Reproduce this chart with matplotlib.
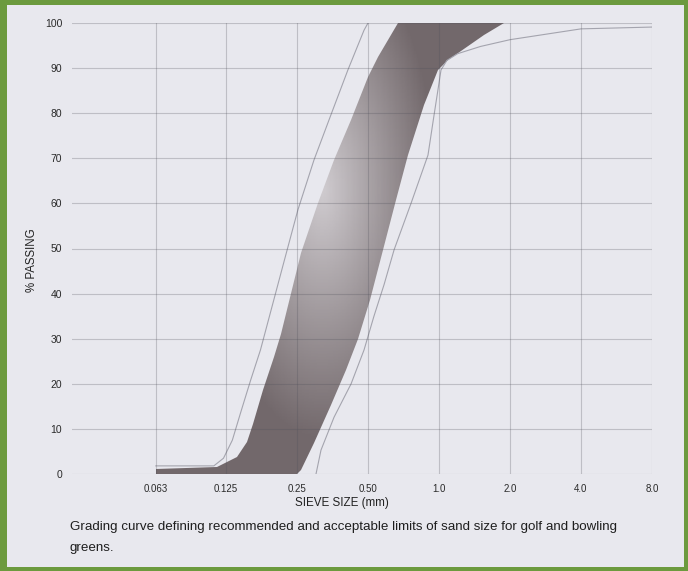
import numpy as np
import matplotlib.pyplot as plt
from matplotlib.colors import LinearSegmentedColormap
from matplotlib.patches import Polygon, Rectangle

# axis ticks
tick_sizes = [0.063, 0.125, 0.25, 0.5, 1.0, 2.0, 4.0, 8.0]
tick_labels = ["0.063", "0.125", "0.25", "0.50", "1.0", "2.0", "4.0", "8.0"]
y_ticks = list(range(0, 101, 10))

# recommended band, fine side (mm, % passing)
rec_fine_size = [0.063, 0.115, 0.139, 0.154, 0.163, 0.180, 0.199, 0.213, 0.260, 0.307, 0.359, 0.424, 0.500, 0.552, 0.670]
rec_fine_pass = [1.0, 1.5, 3.8, 7.0, 11.0, 18.6, 26.0, 31.0, 49.0, 60.0, 69.6, 78.5, 88.0, 92.5, 100.0]
# recommended band, coarse side
rec_coarse_size = [0.25, 0.26, 0.295, 0.348, 0.403, 0.454, 0.51, 0.579, 0.657, 0.739, 0.864, 0.99, 1.09, 1.24, 1.55, 1.89]
rec_coarse_pass = [0.0, 0.9, 6.9, 15.3, 23.1, 30.0, 38.6, 49.7, 60.8, 70.7, 81.8, 89.6, 91.8, 93.8, 97.3, 100.0]
# acceptable limits (thin lines)
acc_fine_size = [0.063, 0.111, 0.122, 0.133, 0.144, 0.159, 0.175, 0.220, 0.252, 0.295, 0.348, 0.411, 0.481, 0.500]
acc_fine_pass = [1.8, 1.8, 3.5, 7.5, 13.5, 20.8, 27.5, 47.0, 58.5, 69.6, 79.6, 89.6, 98.4, 100.0]
acc_coarse_size = [0.301, 0.316, 0.359, 0.424, 0.481, 0.530, 0.585, 0.645, 0.761, 0.898, 0.953, 1.02, 1.08, 1.2, 1.5, 2.0, 4.0, 8.0]
acc_coarse_pass = [0.0, 5.3, 12.6, 20.0, 27.5, 35.0, 42.0, 49.7, 60.0, 70.7, 79.6, 89.6, 91.7, 93.2, 94.8, 96.3, 98.7, 99.1]

plt.rcParams['font.family'] = ['Liberation Sans', 'DejaVu Sans']

fig = plt.figure(figsize=(6.88, 5.71), dpi=100, facecolor='#6c9a3e')
W, H = 688, 571
# light page inside the green frame
fig.patches.append(Rectangle((7 / W, 4 / H), (684 - 7) / W, (566 - 4) / H,
                             transform=fig.transFigure, facecolor='#e8e8ee',
                             edgecolor='none', zorder=-5))

ax = fig.add_axes([72 / W, (H - 474) / H, (652 - 72) / W, (474 - 23) / H])
ax.set_zorder(2)
ax.set_facecolor('none')
ax.set_xscale('log', base=2)
ax.set_xlim(0.0278, 8.0)
ax.set_ylim(0, 100)

# band outline
verts = [(0.063, 0.0)] + list(zip(rec_fine_size, rec_fine_pass)) + \
        list(zip(rec_coarse_size[::-1], rec_coarse_pass[::-1]))
band = Polygon(verts, closed=True, facecolor='none', edgecolor='none')
ax.add_patch(band)

# shaded fill, lighter in the middle-left
xs = np.geomspace(0.06, 2.0, 300)
ys = np.linspace(0, 100, 300)
X, Y = np.meshgrid(xs, ys)
d = np.sqrt(((np.log2(X) - np.log2(0.32)) / 1.6) ** 2 + ((Y - 63) / 55) ** 2)
shade = 1 - np.clip(d, 0, 1)
cmap = LinearSegmentedColormap.from_list('band', ['#72686b', '#cfcbcf'])
mesh = ax.pcolormesh(X, Y, shade, cmap=cmap, vmin=0, vmax=1, shading='auto', zorder=1)
mesh.set_clip_path(band)

ax.plot(acc_fine_size, acc_fine_pass, color='#a4a4ae', lw=0.8, zorder=2)
ax.plot(acc_coarse_size, acc_coarse_pass, color='#a4a4ae', lw=0.8, zorder=2)

ax.set_xticks(tick_sizes)
ax.set_xticklabels(tick_labels)
ax.xaxis.set_minor_locator(plt.NullLocator())
ax.set_yticks(y_ticks)
ax.grid(True, color='#50505a', alpha=0.27, lw=0.8)
ax.set_axisbelow(False)
for s in ax.spines.values():
    s.set_visible(False)
ax.tick_params(length=0, labelcolor='#2a2a2a')
ax.tick_params(axis='x', labelsize=7, pad=7)
ax.tick_params(axis='y', labelsize=7.5, pad=7)

fig.text(342 / W, 1 - 503 / H, "SIEVE SIZE (mm)", ha='center', va='center',
         fontsize=8.4, color='#222222')
fig.text(32 / W, 1 - 260 / H, "% PASSING", ha='center', va='center',
         rotation=90, fontsize=8.3, color='#222222')
fig.text(70 / W, 1 - 527 / H,
         "Grading curve defining recommended and acceptable limits of sand size for golf and bowling",
         ha='left', va='center', fontsize=9.6, color='#1e1e1e')
fig.text(70 / W, 1 - 548 / H, "greens.", ha='left', va='center', fontsize=9.6, color='#1e1e1e')

fig.savefig('out.png', dpi=100, facecolor=fig.get_facecolor())
